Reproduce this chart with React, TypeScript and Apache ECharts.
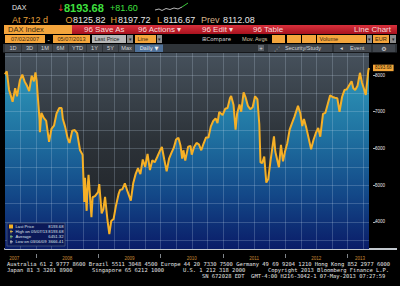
import React, { useEffect, useRef } from "react";
import * as echarts from "echarts";

// ---- data ----
const dates: string[] = [
  "2007-07-02", "2007-07-13", "2007-07-26", "2007-08-03", "2007-08-16", "2007-08-31", "2007-09-11", "2007-09-28", "2007-10-12", "2007-10-26", "2007-11-09", "2007-11-21", "2007-12-06", "2007-12-19", "2007-12-28",
  "2008-01-04", "2008-01-11", "2008-01-21", "2008-01-23", "2008-02-01", "2008-02-15", "2008-02-29", "2008-03-17", "2008-03-31", "2008-04-15", "2008-04-30", "2008-05-16", "2008-05-30", "2008-06-06", "2008-06-20", "2008-07-04", "2008-07-15", "2008-07-31", "2008-08-15", "2008-08-29", "2008-09-15", "2008-09-30", "2008-10-10", "2008-10-14", "2008-10-24", "2008-10-28", "2008-11-04", "2008-11-21", "2008-11-28", "2008-12-12", "2008-12-30",
  "2009-01-06", "2009-01-20", "2009-01-30", "2009-02-09", "2009-02-23", "2009-03-06", "2009-03-17", "2009-03-31", "2009-04-14", "2009-04-30", "2009-05-08", "2009-05-22", "2009-06-05", "2009-06-19", "2009-07-10", "2009-07-24", "2009-08-07", "2009-08-21", "2009-09-04", "2009-09-18", "2009-10-02", "2009-10-16", "2009-10-30", "2009-11-13", "2009-11-27", "2009-12-11", "2009-12-30",
  "2010-01-08", "2010-01-22", "2010-02-05", "2010-02-19", "2010-03-05", "2010-03-19", "2010-04-01", "2010-04-15", "2010-04-27", "2010-05-07", "2010-05-14", "2010-05-25", "2010-06-11", "2010-06-25", "2010-07-02", "2010-07-16", "2010-07-30", "2010-08-13", "2010-08-27", "2010-09-10", "2010-09-24", "2010-10-08", "2010-10-22", "2010-11-05", "2010-11-19", "2010-11-30", "2010-12-10", "2010-12-30",
  "2011-01-14", "2011-01-28", "2011-02-11", "2011-02-18", "2011-03-04", "2011-03-16", "2011-03-25", "2011-04-08", "2011-04-18", "2011-05-02", "2011-05-13", "2011-05-27", "2011-06-10", "2011-06-24", "2011-07-08", "2011-07-22", "2011-08-02", "2011-08-09", "2011-08-19", "2011-08-31", "2011-09-12", "2011-09-23", "2011-10-07", "2011-10-27", "2011-11-04", "2011-11-25", "2011-12-07", "2011-12-19", "2011-12-30",
  "2012-01-13", "2012-01-27", "2012-02-10", "2012-02-24", "2012-03-16", "2012-03-30", "2012-04-10", "2012-04-20", "2012-05-04", "2012-05-18", "2012-06-01", "2012-06-15", "2012-06-29", "2012-07-13", "2012-07-25", "2012-08-10", "2012-08-24", "2012-09-07", "2012-09-21", "2012-10-05", "2012-10-19", "2012-11-02", "2012-11-15", "2012-11-30", "2012-12-14", "2012-12-28",
  "2013-01-11", "2013-01-25", "2013-02-04", "2013-02-15", "2013-03-01", "2013-03-15", "2013-03-27", "2013-04-05", "2013-04-18", "2013-04-26", "2013-05-03", "2013-05-07",
];

const closes: number[] = [
  8020, 8100, 7600, 7480, 7270, 7640, 7420, 7860, 8010, 7820, 7700, 7560, 7980, 7830, 8070,
  7850, 7400, 6790, 6440, 6970, 6830, 6750, 6180, 6530, 6620, 6950, 7100, 7100, 6800, 6580, 6280, 6150, 6480, 6500, 6420, 5950, 5830, 4540, 5200, 4300, 4820, 5280, 4130, 4670, 4700, 4810,
  5030, 4230, 4340, 4680, 4050, 3666, 4020, 4080, 4440, 4770, 4870, 4890, 5050, 4850, 4580, 5050, 5300, 5460, 5300, 5700, 5500, 5850, 5410, 5680, 5620, 5760, 5960,
  6040, 5700, 5380, 5720, 5880, 6020, 6240, 6290, 6080, 5720, 5950, 5670, 6050, 6070, 5830, 6040, 6150, 6110, 5950, 6140, 6300, 6300, 6600, 6750, 6820, 6690, 6990, 6910,
  7080, 7100, 7370, 7430, 7180, 6510, 6950, 7200, 7000, 7530, 7400, 7160, 7070, 7120, 7420, 7340, 6660, 5620, 5600, 5780, 5070, 5160, 5670, 6330, 5910, 5490, 6100, 5650, 5900,
  6140, 6510, 6690, 6860, 7160, 6950, 6610, 6800, 6560, 6270, 5980, 6230, 6420, 6560, 6320, 6940, 6970, 7210, 7450, 7400, 7380, 7370, 7000, 7400, 7590, 7610,
  7720, 7830, 7640, 7590, 7710, 8060, 7790, 7660, 7460, 7810, 8120, 8193.68,
];

const yTickValues: number[] = [4000, 5000, 6000, 7000, 8000];
const gridLevels: number[] = [3500, 4000, 4500, 5000, 5500, 6000, 6500, 7000, 7500, 8000, 8500];
const yearTicks: number[] = [2008, 2009, 2010, 2011, 2012, 2013];
const yearLabelPositions: number[] = [2007.65, 2008.5, 2009.5, 2010.5, 2011.5, 2012.5, 2013.2];

const legendLabels: string[] = ["Last Price", "High on 05/07/13", "Average", "Low on 03/06/09"];
const legendValues: string[] = ["8193.68", "8193.68", "6451.32", "3666.41"];
const legendColors: string[] = ["#f5b021", "#f3c846", "#8fd07a", "#d8d8d8"];

const quote = { last: "8193.68", change: "+81.60", open: "8125.82", high: "8197.72", low: "8116.67", prev: "8112.08" };
const periodButtons: string[] = ["1D", "3D", "1M", "6M", "YTD", "1Y", "5Y", "Max"];

const footer1 = "Australia 61 2 9777 8600 Brazil 5511 3048 4500 Europe 44 20 7330 7500 Germany 49 69 9204 1210 Hong Kong 852 2977 6000";
const footer2 = ["Japan 81 3 3201 8900", "Singapore 65 6212 1000", "U.S. 1 212 318 2000", "Copyright 2013 Bloomberg Finance L.P."];
const footer3 = "SN 672028 EDT  GMT-4:00 H216-3042-1 07-May-2013 07:27:59";

const SANS = "'Liberation Sans', Arial, sans-serif";
const MONO = "'DejaVu Sans Mono', 'Liberation Mono', monospace";

function toYear(s: string): number {
  const [y, m, d] = s.split("-").map(Number);
  const start = Date.UTC(y, 0, 1);
  const end = Date.UTC(y + 1, 0, 1);
  return y + (Date.UTC(y, m - 1, d) - start) / (end - start);
}

const txt = (x: number, y: number, text: string, fill: string, fontSize: number, extra: any = {}) => ({
  type: "text",
  x,
  y,
  z: 20,
  silent: true,
  style: { text, fill, fontSize, fontFamily: SANS, align: "left", verticalAlign: "middle", textAlign: "left", textVerticalAlign: "middle", ...extra },
});

const box = (x: number, y: number, w: number, h: number, fill: any, extra: any = {}) => ({
  type: "rect",
  z: 19,
  silent: true,
  shape: { x, y, width: w, height: h },
  style: { fill, ...extra },
});

export default function App() {
  const ref = useRef<HTMLDivElement>(null);

  useEffect(() => {
    document.body.style.margin = "0";
    document.body.style.background = "#000";
    const chart = echarts.init(ref.current!, null, { renderer: "svg" });

    const pts = dates.map((d, i) => [toYear(d), closes[i]]);
    const xMin = 2007.5;
    const xMax = toYear(dates[dates.length - 1]);
    const quarters: number[] = [];
    for (let q = 2007.75; q < xMax; q += 0.25) quarters.push(q);

    const orange = "#f4a53c";
    const dark = "#3b2a12";
    const grey = "#8c8c8c";

    const graphics: any[] = [];
    // row 1
    graphics.push(txt(12, 7.5, "DAX", "#e6e6e6", 7));
    graphics.push(txt(57, 7.5, "↓", "#e23030", 9, { fontFamily: "'DejaVu Sans', sans-serif" }));
    graphics.push(txt(64, 7.5, quote.last, "#3fe03f", 11, { fontWeight: "bold" }));
    graphics.push(txt(110, 7.5, quote.change, "#3fe03f", 9));
    graphics.push({ type: "polyline", z: 20, silent: true, shape: { points: [[155, 10], [159, 9], [162, 10.5], [166, 8.5], [170, 9.5], [174, 8], [178, 9], [182, 7]] }, style: { stroke: "#e6e6e6", lineWidth: 0.8, fill: null } });
    graphics.push({ type: "polyline", z: 20, silent: true, shape: { points: [[182, 7], [185, 5], [188, 3]] }, style: { stroke: "#3fe03f", lineWidth: 0.9, fill: null } });
    // row 2
    graphics.push(txt(12, 19.5, "At 7:12 d", "#e8a33c", 9));
    graphics.push(txt(65.5, 19.5, "O", "#e8a33c", 9));
    graphics.push(txt(73, 19.5, quote.open, "#e6e6e6", 9));
    graphics.push(txt(110.5, 19.5, "H", "#e8a33c", 9));
    graphics.push(txt(118, 19.5, quote.high, "#e6e6e6", 9));
    graphics.push(txt(157, 19.5, "L", "#e8a33c", 9));
    graphics.push(txt(163.5, 19.5, quote.low, "#e6e6e6", 9));
    graphics.push(txt(201, 19.5, "Prev", "#d8b48a", 9));
    graphics.push(txt(223, 19.5, quote.prev, "#e6e6e6", 9));
    // red bar row
    graphics.push(box(72, 25, 325, 9, new echarts.graphic.LinearGradient(0, 0, 0, 1, [{ offset: 0, color: "#d8303c" }, { offset: 1, color: "#a8121e" }])));
    graphics.push(box(4, 25, 68, 9, orange));
    graphics.push(txt(8, 29.6, "DAX Index", dark, 7.5));
    const barText = "#f6dada";
    graphics.push(txt(84, 29.6, "96 Save As", barText, 8));
    graphics.push(txt(138, 29.6, "96 Actions ▾", barText, 8));
    graphics.push(txt(202, 29.6, "96 Edit ▾", barText, 8));
    graphics.push(txt(253, 29.6, "96 Table", barText, 8));
    graphics.push(txt(391, 29.6, "Line Chart", barText, 8, { align: "right", textAlign: "right" }));
    // date row
    const small = 5.6;
    graphics.push(box(5, 35, 40, 8, orange));
    graphics.push(txt(25, 39.2, "07/02/2007", dark, small, { align: "center", textAlign: "center" }));
    graphics.push(txt(47.5, 39, "-", "#dddddd", 7));
    graphics.push(box(53, 35, 37, 8, orange));
    graphics.push(txt(71.5, 39.2, "05/07/2013", dark, small, { align: "center", textAlign: "center" }));
    graphics.push(box(92, 35, 34, 8, "#b6b6b6"));
    graphics.push(txt(94.5, 39.2, "Last Price", "#222222", small));
    graphics.push(box(127, 35, 6, 8, grey));
    graphics.push(txt(130, 39.2, "▾", "#222", 5, { align: "center", textAlign: "center" }));
    graphics.push(box(135, 35, 21, 8, orange));
    graphics.push(txt(137.5, 39.2, "Line", dark, small));
    graphics.push(box(157, 35, 5, 8, grey));
    graphics.push(txt(159.5, 39.2, "▾", "#222", 5, { align: "center", textAlign: "center" }));
    graphics.push(txt(202, 39.2, "⊞Compare", "#d8d8d8", 5.4, { fontFamily: "'DejaVu Sans', sans-serif" }));
    graphics.push(txt(242, 39.2, "Mov. Avgs", "#d8c8a8", small));
    graphics.push(box(272, 35, 13, 8, orange));
    graphics.push(box(287, 35, 14, 8, orange));
    graphics.push(box(302, 35, 14, 8, orange));
    graphics.push(box(317, 35, 49, 8, orange));
    graphics.push(txt(319.5, 39.2, "Volume", dark, small));
    graphics.push(box(367, 35, 5, 8, grey));
    graphics.push(txt(369.5, 39.2, "▾", "#222", 5, { align: "center", textAlign: "center" }));
    graphics.push(box(373, 35, 16, 8, orange));
    graphics.push(txt(375, 39.2, "EUR", dark, small));
    graphics.push(box(390, 35, 6, 8, grey));
    graphics.push(txt(393, 39.2, "▾", "#222", 5, { align: "center", textAlign: "center" }));
    // button row
    graphics.push(box(3, 44, 394, 8.5, "#2e3338"));
    const btnX = [5, 22, 38, 53, 69, 87, 103, 119];
    const btnW = [16, 15, 14, 15, 17, 15, 15, 15];
    periodButtons.forEach((b, i) => {
      graphics.push(box(btnX[i], 44.5, btnW[i], 7.5, "#41464d"));
      graphics.push(txt(btnX[i] + btnW[i] / 2, 48.4, b, "#cfd3d8", 5.6, { align: "center", textAlign: "center" }));
    });
    graphics.push(box(135, 44.5, 28, 7.5, "#4f7199"));
    graphics.push(txt(149, 48.4, "Daily ▼", "#f0f0f0", 5.2, { align: "center", textAlign: "center", fontFamily: "'DejaVu Sans', sans-serif" }));
    graphics.push(box(258, 45, 6, 6, "#5a5f66"));
    graphics.push(txt(261, 48.2, "+", "#dddddd", 6, { align: "center", textAlign: "center" }));
    graphics.push(box(268, 44.5, 64, 7.5, "#41464d"));
    graphics.push(txt(274, 48.4, "⋰", "#dddddd", 6, { fontFamily: "'DejaVu Sans', sans-serif" }));
    graphics.push(txt(285, 48.4, "Security/Study", "#cfd3d8", 5.6));
    graphics.push(box(334, 44.5, 37, 7.5, "#41464d"));
    graphics.push(txt(340, 48.4, "◂", "#dddddd", 5.5, { fontFamily: "'DejaVu Sans', sans-serif" }));
    graphics.push(txt(350, 48.4, "Event", "#cfd3d8", 5.6));
    graphics.push(box(373, 44.5, 22, 7.5, "#41464d"));
    graphics.push(txt(384, 48.4, "⚙", "#dddddd", 6, { align: "center", textAlign: "center", fontFamily: "'DejaVu Sans', sans-serif" }));
    // bottom light bar extension under the axis column
    graphics.push({ type: "line", z: 20, silent: true, shape: { x1: 369, y1: 249, x2: 397, y2: 249 }, style: { stroke: "#c3c9cf", lineWidth: 2 } });
    // legend box
    graphics.push({ type: "rect", z: 21, silent: true, shape: { x: 7, y: 223, width: 58, height: 23 }, style: { fill: "#0b1958", stroke: "#5b6b84", lineWidth: 0.6 } });
    legendLabels.forEach((l, i) => {
      const yy = 226.5 + i * 5.1;
      if (i === 0) {
        graphics.push({ type: "rect", z: 22, silent: true, shape: { x: 9, y: yy - 2, width: 4, height: 4 }, style: { fill: legendColors[i] } });
      } else {
        graphics.push({ type: "line", z: 22, silent: true, shape: { x1: 11, y1: yy - 1.8, x2: 11, y2: yy + 1.8 }, style: { stroke: legendColors[i], lineWidth: 0.8 } });
        graphics.push({ type: "line", z: 22, silent: true, shape: { x1: 10, y1: yy, x2: 13, y2: yy }, style: { stroke: legendColors[i], lineWidth: 0.8 } });
      }
      graphics.push({ ...txt(15.5, yy, l, "#dfe3ea", 4.2), z: 22 });
      graphics.push({ ...txt(63.5, yy, legendValues[i], "#dfe3ea", 4.2, { align: "right", textAlign: "right" }), z: 22 });
    });
    // footer
    graphics.push(txt(7, 264, footer1, "#e6e6e6", 5.45, { fontFamily: MONO }));
    const f2x = [7, 92, 183, 268];
    footer2.forEach((s, i) => graphics.push(txt(f2x[i], 270, s, "#e6e6e6", 5.45, { fontFamily: MONO })));
    graphics.push(txt(202, 276, footer3, "#e6e6e6", 5.45, { fontFamily: MONO }));

    const option: any = {
      animation: false,
      backgroundColor: "#000000",
      textStyle: { fontFamily: SANS },
      grid: {
        left: 5,
        right: 31,
        top: 53,
        bottom: 37,
        show: true,
        borderWidth: 0,
        backgroundColor: new echarts.graphic.LinearGradient(0, 0, 0, 1, [
          { offset: 0, color: "#46515c" },
          { offset: 0.45, color: "#2c3238" },
          { offset: 1, color: "#1b1e23" },
        ]),
      },
      xAxis: [
        {
          type: "value",
          min: xMin,
          max: xMax,
          axisLine: { show: true, onZero: false, lineStyle: { color: "#c3c9cf", width: 2 } },
          axisTick: { show: false },
          axisLabel: { show: false },
          splitLine: { show: false },
        },
        {
          type: "value",
          min: xMin,
          max: xMax,
          position: "bottom",
          offset: 5,
          axisLine: { show: false },
          axisTick: { show: true, customValues: yearTicks, length: 4, lineStyle: { color: "#a0a6ac", width: 0.8 } },
          axisLabel: {
            show: true,
            customValues: yearLabelPositions,
            formatter: (v: number) => String(Math.floor(v + 1e-6)),
            color: "#c98a35",
            fontSize: 4.5,
            margin: 1.5,
          },
          splitLine: { show: false },
        },
      ],
      yAxis: {
        type: "value",
        position: "right",
        min: 3260,
        max: 8600,
        offset: 4,
        axisLine: { show: false },
        axisTick: { show: true, customValues: yTickValues, length: 2.5, lineStyle: { color: "#dddddd", width: 0.8 } },
        axisLabel: { show: true, customValues: yTickValues, formatter: (v: number) => String(v), color: "#e6e6e6", fontSize: 4.5, margin: 2 },
        splitLine: { show: false },
      },
      series: [
        {
          type: "line",
          data: pts,
          xAxisIndex: 0,
          symbol: "none",
          z: 1,
          lineStyle: { width: 0, opacity: 0 },
          areaStyle: {
            opacity: 1,
            color: new echarts.graphic.LinearGradient(0, 0, 0, 1, [
              { offset: 0, color: "#2f97b9" },
              { offset: 0.35, color: "#2074a2" },
              { offset: 0.7, color: "#134888" },
              { offset: 1, color: "#0a1c68" },
            ]),
          },
        },
        {
          type: "line",
          data: [],
          xAxisIndex: 0,
          symbol: "none",
          z: 2,
          markLine: {
            z: 2,
            silent: true,
            animation: false,
            symbol: ["none", "none"],
            label: { show: false },
            emphasis: { disabled: true },
            lineStyle: { color: "rgba(205,225,240,0.28)", width: 0.8, type: "solid", opacity: 1 },
            data: [...gridLevels.map((v) => ({ yAxis: v })), ...quarters.map((q) => ({ xAxis: q }))],
          },
        },
        {
          type: "line",
          data: pts,
          xAxisIndex: 0,
          symbol: "none",
          silent: true,
          z: 3,
          lineStyle: { color: "#f6b026", width: 2 },
          endLabel: {
            show: true,
            formatter: (p: any) => p.value[1].toFixed(2),
            distance: 4,
            color: "#2a1a00",
            backgroundColor: "#f4a63a",
            fontSize: 4.6,
            padding: [1, 2, 0.5, 2],
          },
        },
      ],
      graphic: { elements: graphics },
    };

    chart.setOption(option);
    return () => chart.dispose();
  }, []);

  return <div ref={ref} style={{ width: 400, height: 286 }} />;
}
